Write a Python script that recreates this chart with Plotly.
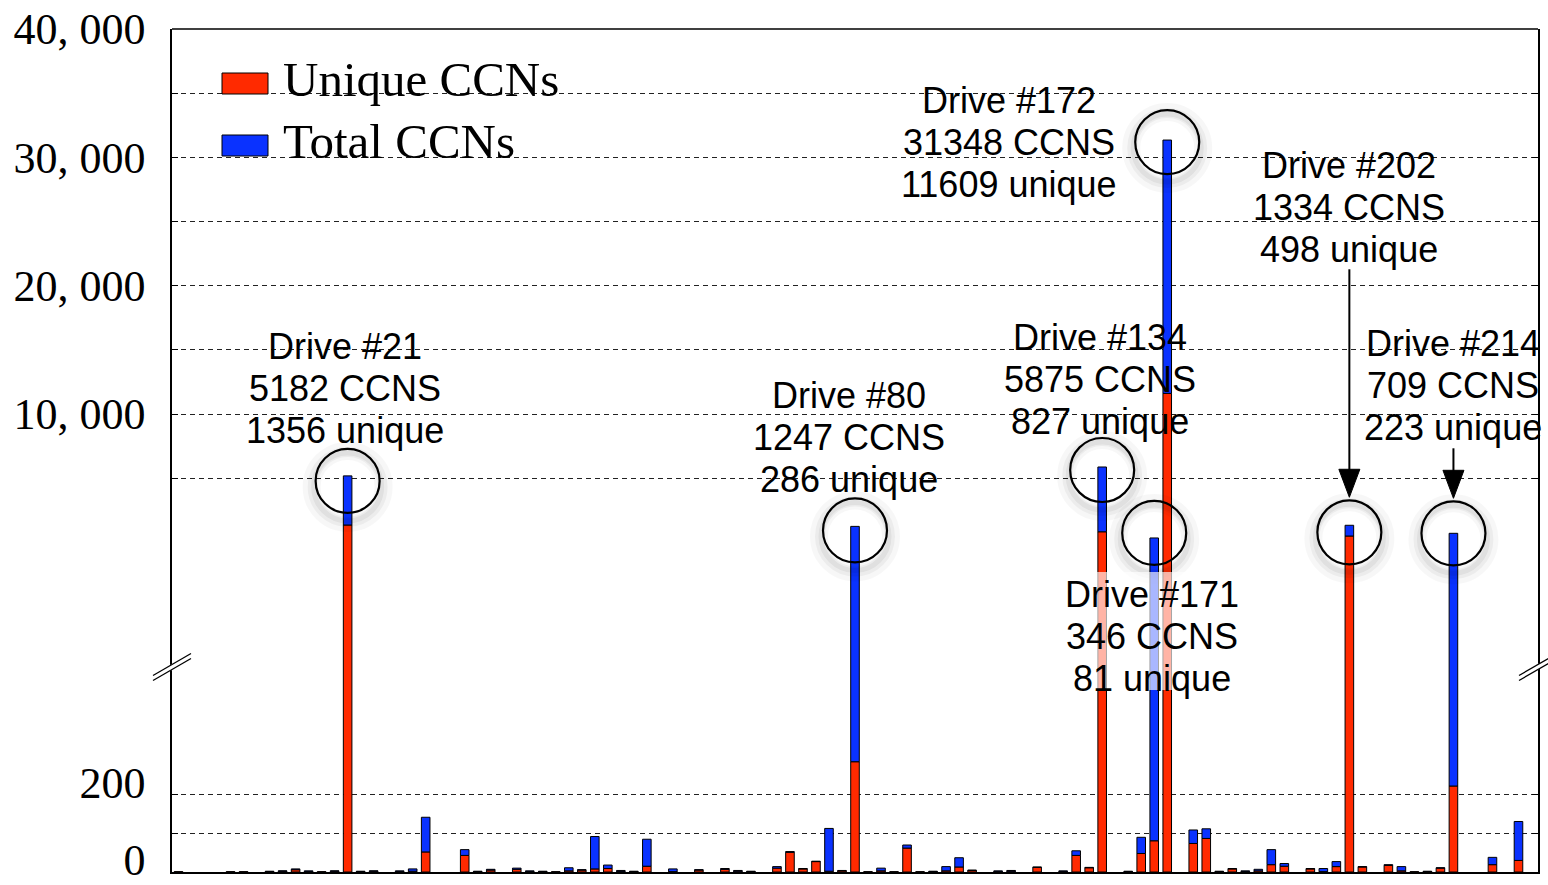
import plotly.graph_objects as go

# ---------------- data ----------------
total_ccns = [1, 0, 0, 0, 1, 1, 0, 2, 3, 8, 3, 1, 3, 5182, 2, 3, 0, 3, 8, 142,
              0, 0, 58, 2, 7, 0, 10, 3, 2, 1, 11, 6, 92, 18, 4, 2, 85, 0, 8, 0,
              6, 0, 9, 4, 2, 0, 14, 53, 9, 28, 113, 4, 1247, 1, 10, 1, 70, 1, 2, 14,
              37, 5, 0, 3, 4, 0, 13, 0, 3, 55, 12, 5875, 0, 2, 90, 346, 31348, 0, 109, 112,
              2, 9, 3, 7, 58, 22, 0, 9, 9, 27, 1334, 14, 0, 19, 14, 1, 2, 11, 709, 0,
              0, 38, 0, 131]
unique_ccns = [1, 0, 0, 0, 1, 1, 0, 1, 2, 6, 1, 1, 2, 1356, 1, 2, 0, 1, 2, 52,
               0, 0, 43, 1, 5, 0, 7, 1, 1, 1, 3, 5, 8, 9, 1, 1, 15, 0, 1, 0,
               5, 0, 7, 2, 1, 0, 10, 51, 8, 27, 2, 3, 286, 1, 3, 1, 62, 1, 1, 3,
               13, 4, 0, 1, 2, 0, 12, 0, 1, 43, 11, 827, 0, 1, 48, 81, 11609, 0, 74, 87,
               1, 8, 1, 3, 19, 15, 0, 8, 1, 14, 498, 13, 0, 17, 3, 1, 1, 10, 223, 0,
               0, 19, 0, 30]
slots = list(range(len(total_ccns)))

highlight_drive = [21, 80, 134, 171, 172, 202, 214]
highlight_slot = [13, 52, 71, 75, 76, 90, 98]

upper_ticks = [5000, 10000, 15000, 20000, 25000, 30000, 35000, 40000]
upper_ticktext = ["", "10, 000", "", "20, 000", "", "30, 000", "", "40, 000"]
lower_ticks = [0, 100, 200]
lower_ticktext = ["0", "", "200"]

series_names = ["Unique CCNs", "Total CCNs"]

# ---------------- style / layout ----------------
RED = "#ff2a00"
BLUE = "#0a32ff"
W, H = 1548, 885
ML, MR, MT, MB = 172, 10, 29, 13
PW, PH = W - ML - MR, H - MT - MB
SPLIT_PX = 690                      # pixel row of the axis break boundary
split = (H - MB - SPLIT_PX) / PH
LOW_MAX = 472
UP_MIN, UP_MAX = -11500, 40000
BASE_FAR = UP_MIN - 5000            # start of upper-part bars (below visible range)
LOW_FAR = LOW_MAX * 2               # continuation of highlighted bars past the break
LINE_GAP = 42                       # pixel distance between label lines

# per-highlight placement (pixels): label xshift/yshift, circle centre offset below
# the bar top, arrow length, translucent background box
label_style = {
    21: dict(xs=-3, ys=87, cy=5, arrow=None, bg=None),
    80: dict(xs=-6, ys=89, cy=4, arrow=None, bg=None),
    134: dict(xs=-2, ys=87, cy=3, arrow=None, bg=None),
    171: dict(xs=-2, ys=-99, cy=-5, arrow=None, bg=(-88, 86, -164, -34)),
    172: dict(xs=-158, ys=-2, cy=2, arrow=None, bg=None),
    202: dict(xs=0, ys=318, cy=7, arrow=228, bg=None),
    214: dict(xs=0, ys=148, cy=0, arrow=50, bg=None),
}


def px_x(px):
    return (px - ML) / PW


def px_y(py):
    return (H - MB - py) / PH


fig = go.Figure()
hl = set(highlight_slot)

# lower part (0 .. LOW_MAX)
lo_red, lo_blue = [], []
for i, (t, u) in enumerate(zip(total_ccns, unique_ccns)):
    lo_red.append(u if u > 0 else None)
    top = max(t, LOW_FAR) if i in hl else t
    lo_blue.append((top - u) if top - u > 0 else None)
bar_line = dict(color="black", width=1)
fig.add_trace(go.Bar(x=slots, y=lo_red, base=[0] * len(slots), width=0.66,
                     marker=dict(color=RED, line=bar_line), yaxis="y",
                     name=series_names[0], showlegend=False))
fig.add_trace(go.Bar(x=slots, y=lo_blue, base=unique_ccns, width=0.66,
                     marker=dict(color=BLUE, line=bar_line), yaxis="y",
                     name=series_names[1], showlegend=False))

# upper part (highlighted drives)
up_red_x, up_red_y, up_red_b = [], [], []
up_blue_x, up_blue_y, up_blue_b = [], [], []
for i in highlight_slot:
    u, t = unique_ccns[i], total_ccns[i]
    if u > LOW_MAX:
        up_red_x.append(i); up_red_b.append(BASE_FAR); up_red_y.append(u - BASE_FAR)
        b = u
    else:
        b = BASE_FAR
    up_blue_x.append(i); up_blue_b.append(b); up_blue_y.append(t - b)
fig.add_trace(go.Bar(x=up_red_x, y=up_red_y, base=up_red_b, width=0.66,
                     marker=dict(color=RED, line=bar_line), yaxis="y2",
                     name=series_names[0], showlegend=False))
fig.add_trace(go.Bar(x=up_blue_x, y=up_blue_y, base=up_blue_b, width=0.66,
                     marker=dict(color=BLUE, line=bar_line), yaxis="y2",
                     name=series_names[1], showlegend=False))

shapes = []
annotations = []
label_font = dict(family="Liberation Sans, Arial", size=36, color="black")

# highlight circles, arrows and labels
R = 32
for d, s in zip(highlight_drive, highlight_slot):
    t, u = total_ccns[s], unique_ccns[s]
    st = label_style[d]
    c = st["cy"]
    for rr, lw, a in [(R + 4, 18, 0.03), (R + 3, 10, 0.045), (R + 2, 5, 0.05)]:
        shapes.append(dict(type="circle", xref="x", yref="y2", xsizemode="pixel",
                           ysizemode="pixel", xanchor=s, yanchor=t,
                           x0=-rr, x1=rr, y0=-rr - c - 6, y1=rr - c - 6,
                           line=dict(color=f"rgba(0,0,0,{a})", width=lw), layer="above"))
    shapes.append(dict(type="circle", xref="x", yref="y2", xsizemode="pixel",
                       ysizemode="pixel", xanchor=s, yanchor=t,
                       x0=-R, x1=R, y0=-R - c, y1=R - c,
                       line=dict(color="black", width=2.2), layer="above"))
    if st["arrow"]:
        tip = R - c + 3
        head = 28
        shapes.append(dict(type="path", xref="x", yref="y2", xsizemode="pixel",
                           ysizemode="pixel", xanchor=s, yanchor=t,
                           path=f"M -10.5 {tip + head} L 10.5 {tip + head} L 0 {tip} Z",
                           fillcolor="black", line=dict(color="black", width=1), layer="above"))
        shapes.append(dict(type="line", xref="x", yref="y2", xsizemode="pixel",
                           ysizemode="pixel", xanchor=s, yanchor=t,
                           x0=0, x1=0, y0=tip + head - 1, y1=tip + st["arrow"],
                           line=dict(color="black", width=2), layer="above"))
    if st["bg"]:
        bx0, bx1, by0, by1 = st["bg"]
        shapes.append(dict(type="rect", xref="x", yref="y2", xsizemode="pixel",
                           ysizemode="pixel", xanchor=s, yanchor=t,
                           x0=bx0, x1=bx1, y0=by0, y1=by1,
                           fillcolor="rgba(255,255,255,0.65)", line=dict(width=0),
                           layer="above"))
    lines = [f"Drive #{d}", f"{t} CCNS", f"{u} unique"]
    for k, txt in enumerate(lines):
        annotations.append(dict(x=s, y=t, xref="x", yref="y2", xshift=st["xs"],
                                yshift=st["ys"] + LINE_GAP * (1 - k),
                                text=txt, showarrow=False, xanchor="center",
                                yanchor="middle", font=label_font))

# legend (manual, to match swatch sizes)
for name, col, ytop in [(series_names[0], RED, 73), (series_names[1], BLUE, 135)]:
    shapes.append(dict(type="rect", xref="paper", yref="paper",
                       x0=px_x(222), x1=px_x(268), y0=px_y(ytop + 21), y1=px_y(ytop),
                       fillcolor=col, line=dict(color="black", width=1), layer="above"))
    annotations.append(dict(x=px_x(281), y=px_y(ytop + 6), xref="paper", yref="paper",
                            text=name, showarrow=False, xanchor="left", yanchor="middle",
                            font=dict(family="Liberation Serif, Times New Roman", size=49,
                                      color="black")))

# top border
shapes.append(dict(type="line", xref="paper", yref="paper", x0=0, x1=1, y0=1, y1=1,
                   line=dict(color="black", width=1.5), layer="above"))

# axis break marks
for cx in (ML, ML + PW):
    cy = 667
    dx, dy = 19, 11
    shapes.append(dict(type="line", xref="paper", yref="paper",
                       x0=px_x(cx - dx), x1=px_x(cx + dx), y0=px_y(cy + dy), y1=px_y(cy - dy),
                       line=dict(color="white", width=5), layer="above"))
    for off in (-2.5, 2.5):
        shapes.append(dict(type="line", xref="paper", yref="paper",
                           x0=px_x(cx - dx), x1=px_x(cx + dx),
                           y0=px_y(cy + dy + off), y1=px_y(cy - dy + off),
                           line=dict(color="black", width=1.3), layer="above"))

tick_font = dict(family="Liberation Serif, Times New Roman", size=44, color="black")
common_y = dict(showline=True, linecolor="black", linewidth=1.5, mirror="ticks",
                ticks="inside", ticklen=6, tickwidth=1.2, tickcolor="black",
                showgrid=True, gridcolor="#222", gridwidth=1, griddash="5px,4px",
                zeroline=False, tickfont=tick_font, automargin=False,
                ticklabelstandoff=16, ticklabeloverflow="allow")

fig.update_layout(
    width=W, height=H,
    margin=dict(l=ML, r=MR, t=MT, b=MB),
    paper_bgcolor="white", plot_bgcolor="white",
    barmode="overlay", showlegend=False,
    xaxis=dict(range=[-0.5, 104.5], showticklabels=False, ticks="", showgrid=False,
               zeroline=False, showline=True, linecolor="black", linewidth=2.4,
               anchor="y", automargin=False),
    yaxis=dict(domain=[0, split], range=[0, LOW_MAX], tickvals=lower_ticks,
               ticktext=lower_ticktext, anchor="x", ticklabelshift=-12, **common_y),
    yaxis2=dict(domain=[split, 1], range=[UP_MIN, UP_MAX], tickvals=upper_ticks,
                ticktext=upper_ticktext, anchor="x", **common_y),
    shapes=shapes,
    annotations=annotations,
)

fig.write_html("out.html")
